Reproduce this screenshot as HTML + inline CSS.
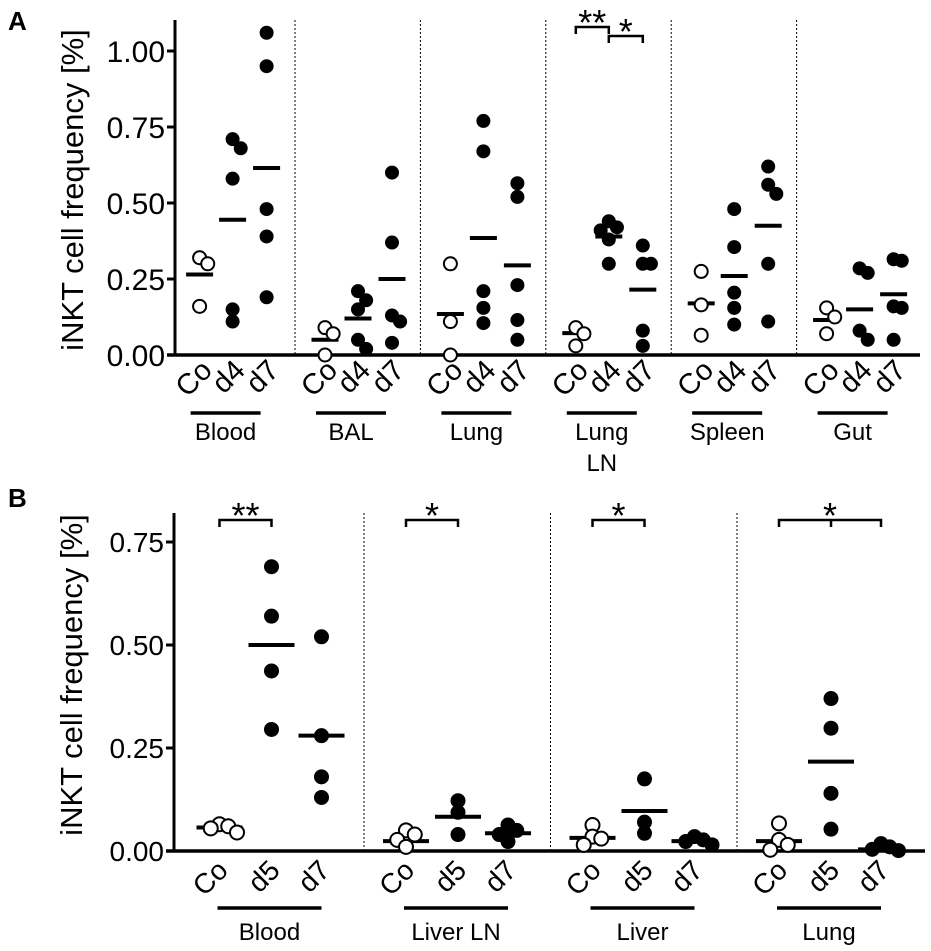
<!DOCTYPE html>
<html><head><meta charset="utf-8"><style>
html,body{margin:0;padding:0;background:#fff;}
svg{display:block;font-family:"Liberation Sans",Arial,sans-serif;}
</style></head><body>
<svg id="chart" width="931" height="951" viewBox="0 0 931 951" xmlns="http://www.w3.org/2000/svg"></svg>
<script>
// ---------- Panel A data ----------
const groupsA = ["Blood","BAL","Lung","Lung LN","Spleen","Gut"];
const condsA = ["Co","d4","d7"];
const ticksA = [0,0.25,0.5,0.75,1.0];
const tickLabelsA = ["0.00","0.25","0.50","0.75","1.00"];
const valsA_Co = [[0.32,0.30,0.16],[0.09,0.07,0.0],[0.30,0.11,0.0],[0.09,0.07,0.03],[0.275,0.165,0.065],[0.155,0.125,0.07]];
const valsA_d4 = [[0.71,0.68,0.58,0.15,0.11],[0.21,0.18,0.15,0.05,0.02],[0.77,0.67,0.21,0.155,0.105],[0.44,0.42,0.41,0.38,0.30],[0.48,0.355,0.205,0.155,0.10],[0.285,0.27,0.08,0.05]];
const valsA_d7 = [[1.06,0.95,0.48,0.39,0.19],[0.60,0.37,0.13,0.11,0.04],[0.565,0.52,0.23,0.115,0.05],[0.36,0.30,0.30,0.08,0.03],[0.62,0.56,0.53,0.30,0.11],[0.315,0.31,0.16,0.155,0.05]];
const meansA_Co = [0.265,0.05,0.135,0.072,0.17,0.115];
const meansA_d4 = [0.445,0.12,0.385,0.39,0.26,0.15];
const meansA_d7 = [0.615,0.25,0.295,0.215,0.425,0.20];

// ---------- Panel B data ----------
const groupsB = ["Blood","Liver LN","Liver","Lung"];
const condsB = ["Co","d5","d7"];
const ticksB = [0,0.25,0.5,0.75];
const tickLabelsB = ["0.00","0.25","0.50","0.75"];
const valsB_Co = [[0.065,0.06,0.055,0.045],[0.05,0.04,0.027,0.01],[0.063,0.035,0.03,0.015],[0.067,0.027,0.015,0.003]];
const valsB_d5 = [[0.69,0.57,0.437,0.295],[0.122,0.094,0.04],[0.175,0.07,0.043],[0.37,0.298,0.14,0.053]];
const valsB_d7 = [[0.52,0.28,0.18,0.13],[0.063,0.05,0.04,0.023],[0.035,0.027,0.023,0.015],[0.018,0.01,0.004,0.001]];
const meansB_Co = [0.057,0.024,0.032,0.024];
const meansB_d5 = [0.50,0.083,0.097,0.217];
const meansB_d7 = [0.28,0.043,0.024,0.004];

const NS="http://www.w3.org/2000/svg";
const svg=document.getElementById('chart');
function mk(tag,attrs,parent){const e=document.createElementNS(NS,tag);for(const k in attrs)e.setAttribute(k,attrs[k]);(parent||svg).appendChild(e);return e;}

function drawPanel(cfg){
  const g=mk('g',{});
  
  
  const y=v=>cfg.y0-cfg.scale*v;
  const colX=(gi,ci)=>cfg.start+cfg.gw*gi+cfg.offs[ci];
  const ya=mk('line',{x1:cfg.ax,y1:cfg.top,x2:cfg.ax,y2:cfg.y0+1.5,stroke:'#000','stroke-width':3},g);
  
  
  const xa=mk('line',{x1:cfg.ax-8,y1:cfg.y0,x2:cfg.right,y2:cfg.y0,stroke:'#000','stroke-width':3.5},g);
  
  
  cfg.ticks.forEach((t,i)=>{
    const tk=mk('line',{x1:cfg.ax-8,y1:y(t),x2:cfg.ax,y2:y(t),stroke:'#000','stroke-width':3},g);
    
    
    const tl=mk('text',{x:cfg.ax-10,y:y(t)+cfg.tickFs*0.36,'text-anchor':'end','font-size':cfg.tickFs},g);
    tl.textContent=cfg.tickLabels[i];
    
    
  });
  const tt=mk('text',{x:0,y:0,'text-anchor':'middle','font-size':cfg.titleFs,transform:`translate(${cfg.titleX},${cfg.titleY}) rotate(-90)`},g);
  tt.textContent='iNKT cell frequency [%]';
  
  
  const pl=mk('text',{x:cfg.letterX,y:cfg.letterY,'font-size':26,'font-weight':'bold'},g);
  pl.textContent=cfg.letter;
  
  
  for(let i=1;i<cfg.groups.length;i++){
    const dx=cfg.start+cfg.gw*i;
    const d=mk('line',{x1:dx,y1:cfg.top,x2:dx,y2:cfg.y0,stroke:'#000','stroke-width':1,'stroke-dasharray':'2,2'},g);
    
    
  }
  const series=[cfg.vCo,cfg.vD1,cfg.vD2];
  const means=[cfg.mCo,cfg.mD1,cfg.mD2];
  cfg.groups.forEach((gn,gi)=>{
    cfg.conds.forEach((cn,ci)=>{
      const cx=colX(gi,ci);
      const ml=mk('line',{x1:cx-cfg.mw/2,y1:y(means[ci][gi]),x2:cx+cfg.mw/2,y2:y(means[ci][gi]),stroke:'#000','stroke-width':4},g);
      
      
      const vals=series[ci][gi];
      const placed=[];
      vals.forEach(v=>{
        const py=y(v);
        const near=placed.filter(p=>Math.abs(p.y-py)<cfg.r*1.5);
        let off=0;
        if(near.length){const seq=[0,1,-1,2,-2];for(const s of seq){const ox=s*cfg.r*1.25;if(!near.some(p=>Math.abs(p.x-ox)<cfg.r*1.2)){off=ox;break;}}}
        placed.push({x:off,y:py});
        const c=mk('circle',{cx:cx+off,cy:py,r:cfg.r,fill:ci===0?'#fff':'#000',stroke:'#000','stroke-width':ci===0?2:1},g);
        
        
      });
      const lx=cx+cfg.labDx, ly=cfg.labY;
      const cl=mk('text',{x:0,y:0,'text-anchor':'end','font-size':cfg.catFs,transform:`translate(${lx},${ly}) rotate(${cfg.labRot})`},g);
      cl.textContent=cn;
      
      
    });
    const ux1=colX(gi,0)+cfg.ulPad[0], ux2=colX(gi,2)+cfg.ulPad[1];
    const ul=mk('line',{x1:ux1,y1:cfg.ulY,x2:ux2,y2:cfg.ulY,stroke:'#000','stroke-width':3.5},g);
    
    
    const lines=cfg.wrap&&gn==='Lung LN'?['Lung','LN']:[gn];
    lines.forEach((ln,li)=>{
      const gl=mk('text',{x:(ux1+ux2)/2,y:cfg.grpY+li*31,'text-anchor':'middle','font-size':cfg.grpFs},g);
      gl.textContent=ln;
      
      
    });
  });
  cfg.sig.forEach(s=>{
    const x1=colX(s.g,s.a), x2=colX(s.g,s.b);
    let d=`M${x1},${s.y+7} L${x1},${s.y} L${x2},${s.y} L${x2},${s.y+7}`;
    if(s.mid!==undefined){const xm=colX(s.g,s.mid);d+=` M${xm},${s.y} L${xm},${s.y+7}`;}
    const p=mk('path',{d:d,fill:'none',stroke:'#000','stroke-width':2.5},g);
    
    
    const st=mk('text',{x:(x1+x2)/2,y:s.y+8,'text-anchor':'middle','font-size':36},g);
    st.textContent=s.label;
    
    
  });
}

drawPanel({name:'panel-a',letter:'A',letterX:8,letterY:30,groups:groupsA,conds:condsA,ticks:ticksA,tickLabels:tickLabelsA,
  vCo:valsA_Co,vD1:valsA_d4,vD2:valsA_d7,mCo:meansA_Co,mD1:meansA_d4,mD2:meansA_d7,
  y0:355,scale:304,top:20,ax:175,right:920,start:169.6,gw:125.4,offs:[30,63,97],
  tickFs:30,titleFs:31,titleX:83,titleY:190,mw:27,r:6.5,catFs:29,labDx:14,labY:372,labRot:-45,
  ulY:413,ulPad:[-9,-6],grpFs:24,grpY:440,wrap:true,
  sig:[{g:3,a:0,b:1,y:27,label:'**'},{g:3,a:1,b:2,y:36,label:'*'}]});

drawPanel({name:'panel-b',letter:'B',letterX:8,letterY:507,groups:groupsB,conds:condsB,ticks:ticksB,tickLabels:tickLabelsB,
  vCo:valsB_Co,vD1:valsB_d5,vD2:valsB_d7,mCo:meansB_Co,mD1:meansB_d5,mD2:meansB_d7,
  y0:851,scale:412,top:513,ax:174,right:925,start:177.5,gw:186.5,offs:[42,94,144],
  tickFs:28,titleFs:31,titleX:82,titleY:675,mw:46,r:7,catFs:28,labDx:10,labY:872,labRot:-45,
  ulY:908,ulPad:[-2,0],grpFs:24,grpY:940,wrap:false,
  sig:[{g:0,a:0,b:1,y:520,label:'**'},{g:1,a:0,b:1,y:520,label:'*'},{g:2,a:0,b:1,y:520,label:'*'},{g:3,a:0,b:2,mid:1,y:520,label:'*'}]});
</script>
</body></html>
